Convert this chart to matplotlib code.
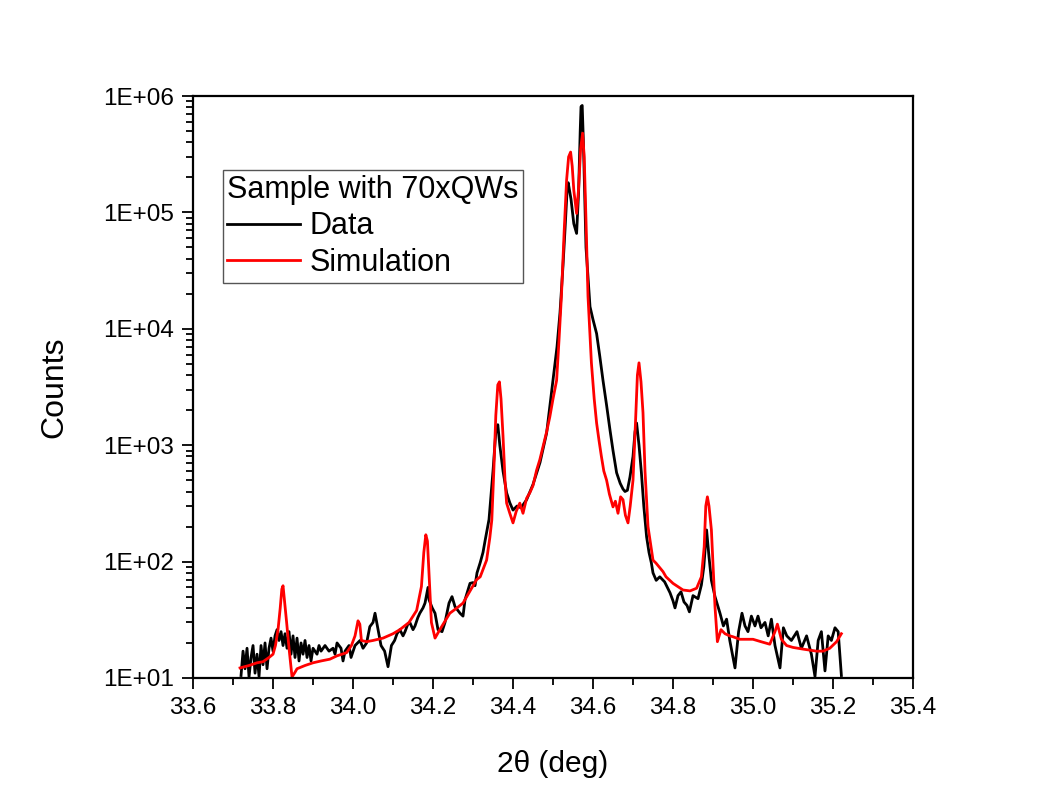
import numpy as np
import matplotlib
matplotlib.use("Agg")
import matplotlib.pyplot as plt
from matplotlib.ticker import MultipleLocator, LogLocator, FuncFormatter, NullFormatter

# measured XRD scan (2theta in deg, counts)
theta_data = [
    33.72, 33.725, 33.73, 33.735, 33.74, 33.745, 33.75, 33.755, 33.76, 33.765,
    33.77, 33.775, 33.78, 33.785, 33.79, 33.795, 33.8, 33.805, 33.81, 33.815,
    33.82, 33.825, 33.83, 33.835, 33.84, 33.845, 33.85, 33.855, 33.86, 33.865,
    33.87, 33.875, 33.88, 33.885, 33.89, 33.895, 33.9, 33.91, 33.915, 33.92,
    33.93, 33.94, 33.95, 33.955, 33.96, 33.97, 33.975, 33.98, 33.99, 33.995,
    34.005, 34.0175, 34.025, 34.034, 34.042, 34.05, 34.055, 34.0625, 34.07, 34.079,
    34.0875, 34.096, 34.104, 34.11, 34.117, 34.125, 34.13, 34.137, 34.142, 34.15,
    34.155, 34.162, 34.167, 34.175, 34.18, 34.1875, 34.19, 34.198, 34.205, 34.2125,
    34.2225, 34.23, 34.24, 34.2475, 34.255, 34.2675, 34.275, 34.28, 34.2925, 34.3,
    34.305, 34.31, 34.318, 34.325, 34.33, 34.34, 34.35, 34.357, 34.362, 34.367,
    34.375, 34.384, 34.392, 34.4, 34.41, 34.42, 34.434, 34.45, 34.4675, 34.484,
    34.5, 34.51, 34.5175, 34.525, 34.53, 34.535, 34.538, 34.545, 34.552, 34.559,
    34.564, 34.568, 34.57, 34.573, 34.576, 34.5825, 34.5925, 34.6, 34.609, 34.617,
    34.625, 34.634, 34.6425, 34.65, 34.659, 34.668, 34.675, 34.68, 34.686, 34.6925,
    34.7, 34.705, 34.709, 34.715, 34.721, 34.727, 34.734, 34.74, 34.746, 34.75,
    34.758, 34.767, 34.779, 34.7925, 34.8, 34.805, 34.8125, 34.82, 34.8275, 34.835,
    34.841, 34.85, 34.8625, 34.871, 34.877, 34.884, 34.89, 34.896, 34.905, 34.9175,
    34.926, 34.934, 34.942, 34.955, 34.964, 34.9725, 34.98, 34.9875, 34.996, 35.005,
    35.0125, 35.02, 35.03, 35.038, 35.046, 35.055, 35.0675, 35.076, 35.0845, 35.096,
    35.11, 35.121, 35.134, 35.146, 35.155, 35.163, 35.171, 35.18, 35.188, 35.196,
    35.205, 35.213, 35.221,
]
counts_data = [
    10.5, 17, 12, 18, 10.2, 15, 19, 11, 16, 10.3,
    19, 13, 20, 12, 18, 22, 17, 23, 26, 21,
    25, 19, 24, 18, 25, 16, 23, 15, 22, 14,
    20, 16, 21, 15, 19, 14, 18, 16, 19, 17,
    19, 17, 18, 16, 20, 18, 14, 17, 19, 15,
    19, 21, 18, 20, 27.6, 30, 36, 26, 19, 17,
    12.5, 19, 21, 24, 26, 23, 25, 29, 30, 26,
    28, 33, 36, 40, 44, 60, 47, 40, 36, 26,
    25, 30, 44, 50, 41, 36, 34, 47, 65, 66,
    62, 80, 98, 120, 150, 230, 600, 1300, 1500, 1000,
    600, 390, 320, 277, 300, 290, 340, 460, 710, 1270,
    3600, 7000, 13800, 35000, 71000, 1.5e5, 1.8e5, 1.3e5, 8e4, 6.6e4,
    1.5e5, 5e5, 8.1e5, 8.3e5, 4e5, 5e4, 15500, 12000, 9100, 5800,
    3600, 2200, 1350, 900, 580, 470, 420, 400, 410, 535,
    800, 1300, 1550, 1000, 580, 300, 163, 120, 97, 80,
    69, 74, 67, 54, 46, 40, 51, 55, 45, 42,
    37, 51, 48, 63, 90, 187, 110, 69, 50, 36,
    28, 32, 21, 12.2, 25, 36, 28, 25, 34, 28,
    34, 27, 30, 23, 32, 19, 12.2, 27, 23, 21,
    25, 18, 23, 16, 10.3, 21, 25, 11.5, 23, 21,
    27, 25, 10.5,
]

# simulated curve
theta_sim = [
    33.7175, 33.74, 33.76, 33.775, 33.79, 33.8, 33.806, 33.8125, 33.818, 33.822,
    33.825, 33.829, 33.834, 33.84, 33.8475, 33.855, 33.86, 33.88, 33.9, 33.92,
    33.942, 33.96, 33.984, 33.996, 34.005, 34.0125, 34.017, 34.021, 34.034, 34.05,
    34.075, 34.1, 34.117, 34.14, 34.159, 34.171, 34.177, 34.182, 34.186, 34.19,
    34.196, 34.205, 34.217, 34.242, 34.26, 34.275, 34.2925, 34.309, 34.318, 34.334,
    34.342, 34.347, 34.352, 34.357, 34.362, 34.366, 34.37, 34.375, 34.38, 34.384,
    34.392, 34.4, 34.408, 34.417, 34.425, 34.434, 34.442, 34.45, 34.459, 34.467,
    34.475, 34.484, 34.492, 34.5, 34.509, 34.515, 34.521, 34.528, 34.534, 34.539,
    34.544, 34.548, 34.552, 34.559, 34.564, 34.569, 34.574, 34.578, 34.5825, 34.5875,
    34.596, 34.603, 34.609, 34.615, 34.621, 34.627, 34.634, 34.641, 34.65, 34.656,
    34.6625, 34.669, 34.675, 34.681, 34.6875, 34.693, 34.7, 34.706, 34.711, 34.715,
    34.72, 34.725, 34.73, 34.7375, 34.75, 34.7575, 34.775, 34.7825, 34.8, 34.825,
    34.8425, 34.859, 34.871, 34.878, 34.882, 34.886, 34.89, 34.896, 34.905, 34.911,
    34.92, 34.93, 34.942, 34.95, 34.967, 35.0, 35.02, 35.042, 35.055, 35.061,
    35.071, 35.084, 35.1, 35.125, 35.159, 35.175, 35.192, 35.209, 35.221,
]
counts_sim = [
    12.2, 12.8, 13.5, 13.8, 15, 16, 19, 26, 40, 58,
    62, 45, 30, 18, 10.2, 11.2, 12, 12.8, 13.5, 14,
    14.5, 15.5, 16.5, 19, 23, 31, 29, 21, 20.5, 21,
    22, 24, 26, 30, 38, 61, 120, 170, 150, 80,
    30, 22, 26, 36, 40, 44, 56, 70, 74, 103,
    160, 228, 600, 1800, 3300, 3500, 2500, 1200, 500, 318,
    260, 215, 270, 318, 260, 350, 390, 450, 610, 750,
    970, 1300, 1750, 2500, 3600, 8000, 19000, 70000, 1.9e5, 3.0e5,
    3.3e5, 2.5e5, 1.55e5, 9.8e4, 1.6e5, 3.5e5, 4.8e5, 3.0e5, 8.5e4, 19000,
    5100, 2500, 1550, 1100, 800, 600, 500, 380, 295, 330,
    260, 360, 340, 250, 215, 300, 500, 1500, 4000, 5100,
    3500, 1900, 600, 200, 103, 97, 82, 74, 65, 57,
    56, 59, 74, 134, 300, 360, 300, 187, 41, 20.5,
    26, 24, 23, 22.6, 21.5, 21.5, 20.5, 19.5, 25, 29,
    21.5, 19, 18.3, 17.7, 17, 17, 18, 20.5, 24,
]

plt.rcParams['font.family'] = ['Liberation Sans', 'DejaVu Sans']

fig = plt.figure(figsize=(10.44, 8.05), dpi=100)
ax = fig.add_axes([0.1849, 0.1578, 0.6896, 0.7229])

ax.plot(theta_data, counts_data, color="black", lw=2.0, label="Data")
ax.plot(theta_sim, counts_sim, color="#ff0000", lw=2.0, label="Simulation")

ax.set_yscale("log")
ax.set_xlim(33.6, 35.4)
ax.set_ylim(10, 1e6)

ax.xaxis.set_major_locator(MultipleLocator(0.2))
ax.xaxis.set_minor_locator(MultipleLocator(0.1))
ax.xaxis.set_major_formatter(FuncFormatter(lambda v, p: f"{v:.1f}"))
ax.yaxis.set_major_locator(LogLocator(base=10, numticks=10))
ax.yaxis.set_minor_locator(LogLocator(base=10, subs=np.arange(2, 10), numticks=20))
ax.yaxis.set_minor_formatter(NullFormatter())
ax.yaxis.set_major_formatter(FuncFormatter(lambda v, p: f"1E+{int(round(np.log10(v))):02d}"))

ax.tick_params(which="both", direction="out", top=False, right=False, width=1.3)
ax.tick_params(which="major", length=8, labelsize=17.5, pad=6)
ax.tick_params(which="minor", length=5)
for s in ax.spines.values():
    s.set_linewidth(1.6)

ax.set_xlabel("2θ (deg)", fontsize=21.5, labelpad=22)
ax.set_ylabel("Counts", fontsize=23, labelpad=24)

leg = ax.legend(title="Sample with 70xQWs", loc="upper left",
                bbox_to_anchor=(0.041, 0.873), fontsize=22, title_fontsize=22,
                alignment="left", fancybox=False, framealpha=1, edgecolor="#555555",
                borderpad=0.15, labelspacing=0.22, handlelength=2.4,
                handletextpad=0.3, borderaxespad=0)
leg.get_frame().set_linewidth(1.0)

fig.savefig("out.png", dpi=100)
